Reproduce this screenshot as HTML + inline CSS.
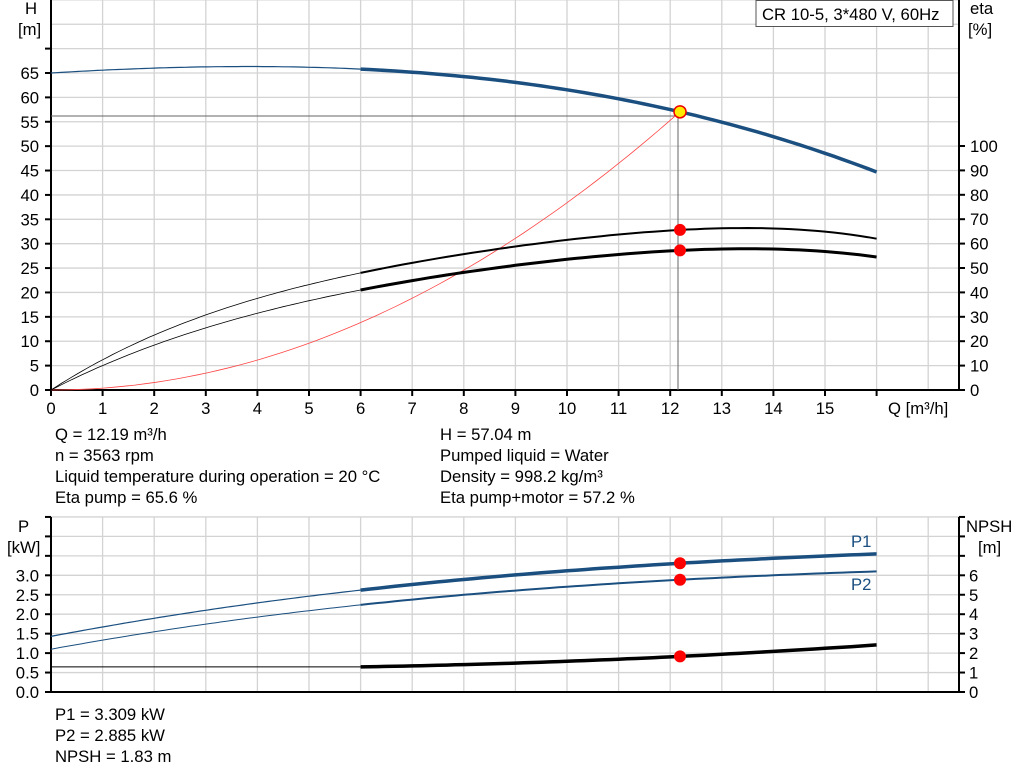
<!DOCTYPE html>
<html><head><meta charset="utf-8"><style>
html,body{margin:0;padding:0;background:#fff;}
svg{display:block;font-family:"Liberation Sans",sans-serif;}
.t{font-size:16.7px;fill:#000;}
</style></head><body>
<svg id="s" width="1024" height="781" xmlns="http://www.w3.org/2000/svg">
<g id="grid" stroke="#d3d3d3" stroke-width="1.3"></g>
<g id="ax" stroke="#000" stroke-width="2"></g>
<g id="txt" class="t"></g>
<g id="cur" fill="none"></g>
<rect x="756" y="0.5" width="197" height="26" fill="#fff" stroke="#555" stroke-width="1"/>
<text x="762" y="20" class="t">CR 10-5, 3*480 V, 60Hz</text>
<text x="55" y="440" class="t">Q = 12.19 m³/h</text>
<text x="55" y="461" class="t">n = 3563 rpm</text>
<text x="55" y="482" class="t">Liquid temperature during operation = 20 °C</text>
<text x="55" y="503" class="t">Eta pump = 65.6 %</text>
<text x="440" y="440" class="t">H = 57.04 m</text>
<text x="440" y="461" class="t">Pumped liquid = Water</text>
<text x="440" y="482" class="t">Density = 998.2 kg/m³</text>
<text x="440" y="503" class="t">Eta pump+motor = 57.2 %</text>
<text x="55" y="720" class="t">P1 = 3.309 kW</text>
<text x="55" y="741" class="t">P2 = 2.885 kW</text>
<text x="55" y="762" class="t">NPSH = 1.83 m</text>
<text x="851" y="547" class="t" style="fill:#1a4f80">P1</text>
<text x="851" y="590" class="t" style="fill:#1a4f80">P2</text>
</svg>
<script>
const NS="http://www.w3.org/2000/svg";
function el(p,tag,a,txt){const e=document.createElementNS(NS,tag);for(const k in a)e.setAttribute(k,a[k]);if(txt!==undefined)e.textContent=txt;document.getElementById(p).appendChild(e);return e;}
const X=q=>51+q*51.6;
const YH=h=>390-h*4.877, YE=e=>390-e*2.44;
const YP=p=>692-p*38.9, YN=n=>692-n*19.45;
for(let i=1;i<=17;i++){const x=51+i*51.6;if(x<958)el('grid','line',{x1:x,y1:0,x2:x,y2:390});}
for(let i=0;i<=16;i++){const y=390-i*24.385;el('grid','line',{x1:51,y1:y,x2:959,y2:y});}
for(let i=1;i<=17;i++){const x=51+i*51.6;if(x<958)el('grid','line',{x1:x,y1:517,x2:x,y2:692});}
for(let i=0;i<=9;i++){const y=692-i*19.45;el('grid','line',{x1:51,y1:y,x2:959,y2:y});}
el('ax','line',{x1:51,y1:0,x2:51,y2:391});el('ax','line',{x1:959,y1:0,x2:959,y2:391});el('ax','line',{x1:50,y1:390,x2:960,y2:390});
el('ax','line',{x1:51,y1:517,x2:51,y2:693});el('ax','line',{x1:959,y1:517,x2:959,y2:693});el('ax','line',{x1:50,y1:692,x2:960,y2:692});
for(let v=0;v<=70;v+=5){const y=YH(v);el('ax','line',{x1:45,y1:y,x2:51,y2:y});if(v<=65)el('txt','text',{x:39,y:y+6,'text-anchor':'end'},v);}
for(let v=0;v<=100;v+=10){const y=YE(v);el('ax','line',{x1:959,y1:y,x2:965,y2:y});el('txt','text',{x:970,y:y+6},v);}
for(let q=0;q<=15;q++){const x=X(q);el('ax','line',{x1:x,y1:390,x2:x,y2:396});el('txt','text',{x:x,y:414,'text-anchor':'middle'},q);}
el('ax','line',{x1:X(16),y1:390,x2:X(16),y2:396});
el('txt','text',{x:888,y:414},'Q [m³/h]');
el('txt','text',{x:25,y:14},'H');el('txt','text',{x:18,y:35},'[m]');
el('txt','text',{x:970,y:14},'eta');el('txt','text',{x:968,y:35},'[%]');
for(let i=0;i<=9;i++){const y=692-i*19.45;el('ax','line',{x1:45,y1:y,x2:51,y2:y});el('ax','line',{x1:959,y1:y,x2:965,y2:y});
 if(i<=6){el('txt','text',{x:39,y:y+6,'text-anchor':'end'},(i*0.5).toFixed(1));el('txt','text',{x:969,y:y+6},i);}}
el('txt','text',{x:18,y:532},'P');el('txt','text',{x:7,y:553},'[kW]');
el('txt','text',{x:966,y:532},'NPSH');el('txt','text',{x:978,y:553},'[m]');
function lag(pts){return q=>{let s=0;for(let i=0;i<pts.length;i++){let t=pts[i][1];for(let j=0;j<pts.length;j++)if(j!=i)t*=(q-pts[j][0])/(pts[i][0]-pts[j][0]);s+=t;}return s;};}
function path(f,Y,a,b,attrs){let d='';for(let k=0;k<=60;k++){const q=a+(b-a)*k/60;d+=(k?'L':'M')+X(q).toFixed(1)+','+Y(f(q)).toFixed(1);}attrs.d=d;el('cur','path',attrs);}
const H=lag([[0,65],[6,65.8],[12.19,57.04],[16,44.7]]);
const E1=lag([[0,0],[2,22.5],[6,48],[12.19,65.6],[16,62]]);
const E2=lag([[0,0],[2,18.4],[6,41],[12.19,57.2],[16,54.5]]);
const P1=lag([[0,1.43],[6,2.62],[12.19,3.309],[16,3.55]]);
const P2=lag([[0,1.1],[6,2.24],[12.19,2.885],[16,3.1]]);
const N=lag([[6,1.29],[12.19,1.83],[16,2.42]]);
el('cur','line',{x1:51,y1:116,x2:680,y2:116,stroke:'#666','stroke-width':1});
el('cur','line',{x1:678,y1:112,x2:678,y2:390,stroke:'#666','stroke-width':1});
path(q=>0.384*q*q,YH,0,12.19,{stroke:'#f44',"stroke-width":0.8});
path(H,YH,0,6,{stroke:'#1a4f80','stroke-width':1.2});
path(H,YH,6,16,{stroke:'#1a4f80','stroke-width':3.5});
path(E1,YE,0,6,{stroke:'#000','stroke-width':0.8});
path(E1,YE,6,16,{stroke:'#000','stroke-width':2});
path(E2,YE,0,6,{stroke:'#000','stroke-width':0.8});
path(E2,YE,6,16,{stroke:'#000','stroke-width':3});
path(P1,YP,0,6,{stroke:'#1a4f80','stroke-width':1.2});
path(P1,YP,6,16,{stroke:'#1a4f80','stroke-width':3.5});
path(P2,YP,0,6,{stroke:'#1a4f80','stroke-width':1});
path(P2,YP,6,16,{stroke:'#1a4f80','stroke-width':2});
el('cur','line',{x1:51,y1:YN(1.29),x2:X(6),y2:YN(1.29),stroke:'#000','stroke-width':1});
path(N,YN,6,16,{stroke:'#000','stroke-width':3.5});
const dot=(x,y)=>el('cur','circle',{cx:x,cy:y,r:6,fill:'#f00',stroke:'none'});
dot(X(12.19),YE(65.6));dot(X(12.19),YE(57.2));
dot(X(12.19),YP(3.309));dot(X(12.19),YP(2.885));dot(X(12.19),YN(1.83));
el('cur','circle',{cx:X(12.19),cy:YH(57.04),r:6,fill:'#ffeb00',stroke:'#e00','stroke-width':1.5});
</script>
</body></html>
